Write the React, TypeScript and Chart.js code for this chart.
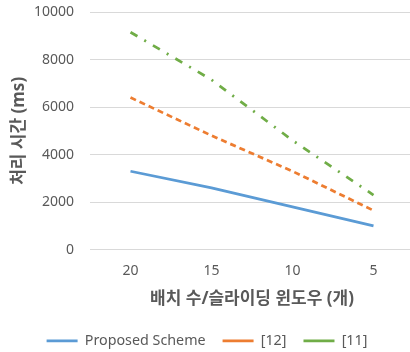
import React, { useEffect, useRef } from "react";
import { Chart, registerables } from "chart.js";

Chart.register(...registerables);

const categories = ["20", "15", "10", "5"];
const proposed = [3300, 2600, 1800, 1000];
const ref12 = [6400, 4800, 3300, 1650];
const ref11 = [9150, 7150, 4600, 2300];
const seriesNames = ["Proposed Scheme", "[12]", "[11]"];
const yMax = 10000;
const yStep = 2000;
const xTitle = "배치 수/슬라이딩 윈도우 (개)";
const yTitle = "처리 시간 (ms)";

const FONT = "'Noto Sans', 'Noto Sans CJK KR', sans-serif";
const GRAY = "#595959";

export default function App() {
  const ref = useRef<HTMLCanvasElement | null>(null);

  useEffect(() => {
    if (!ref.current) return;
    const chart = new Chart(ref.current, {
      type: "line",
      data: {
        labels: categories,
        datasets: [
          {
            label: seriesNames[0],
            data: proposed,
            borderColor: "#5B9BD5",
            backgroundColor: "#5B9BD5",
            borderWidth: 2.75,
            pointRadius: 0,
            pointStyle: "line",
            tension: 0,
          },
          {
            label: seriesNames[1],
            data: ref12,
            borderColor: "#ED7D31",
            backgroundColor: "#ED7D31",
            borderWidth: 2.75,
            borderDash: [6, 4],
            pointRadius: 0,
            pointStyle: "line",
            tension: 0,
          },
          {
            label: seriesNames[2],
            data: ref11,
            borderColor: "#70AD47",
            backgroundColor: "#70AD47",
            borderWidth: 2.75,
            borderDash: [8, 8, 2, 8],
            pointRadius: 0,
            pointStyle: "line",
            tension: 0,
          },
        ],
      },
      options: {
        animation: false,
        responsive: false,
        maintainAspectRatio: false,
        layout: { padding: { top: 12, left: 0, right: 0, bottom: 0 } },
        plugins: {
          tooltip: { enabled: false },
          legend: {
            position: "bottom",
            labels: {
              usePointStyle: true,
              pointStyleWidth: 31,
              padding: 17,
              color: GRAY,
              font: { family: FONT, size: 14.3 },
            },
          },
        },
        scales: {
          x: {
            offset: true,
            grid: { display: false, drawTicks: false },
            border: { display: false },
            ticks: { color: GRAY, font: { family: FONT, size: 14 }, padding: 13 },
            title: {
              display: true,
              text: xTitle,
              color: GRAY,
              font: { family: FONT, size: 17, weight: "bold" },
              padding: { top: 0, bottom: 7.4 },
            },
            afterFit: (s: any) => {
              s.height = 67;
            },
          },
          y: {
            min: 0,
            max: yMax,
            ticks: {
              stepSize: yStep,
              color: GRAY,
              font: { family: FONT, size: 14 },
              padding: 16,
              callback: (v: any) => String(v),
            },
            grid: { color: "#d9d9d9", drawTicks: false, lineWidth: 1 },
            border: { display: false },
            title: {
              display: true,
              text: yTitle,
              color: GRAY,
              font: { family: FONT, size: 17, weight: "bold" },
              padding: { top: 8.5, bottom: 0 },
            },
            afterFit: (s: any) => {
              s.width = 90;
              s.paddingTop = 0;
              s.paddingBottom = 0;
            },
          },
        },
      },
    });
    return () => chart.destroy();
  }, []);

  return (
    <div
      style={{
        position: "fixed",
        left: 0,
        top: 0,
        width: 410,
        height: 352,
        overflow: "hidden",
        background: "#fff",
      }}
    >
      <canvas ref={ref} width={414} height={358} style={{ width: 414, height: 358, display: "block" }} />
    </div>
  );
}
